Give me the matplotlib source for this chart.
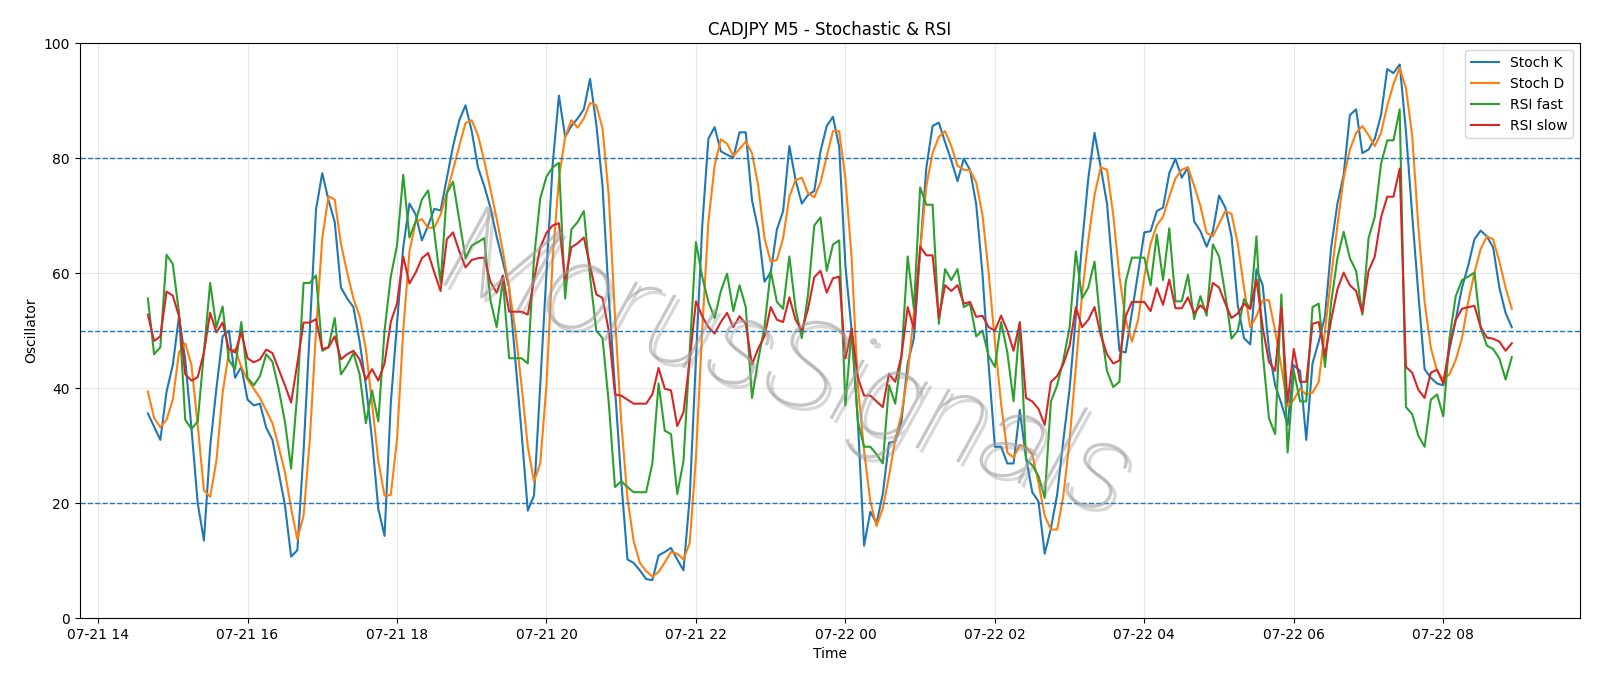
import numpy as np
import pandas as pd
import matplotlib
matplotlib.use('Agg')
import matplotlib.pyplot as plt
import matplotlib.dates as mdates
import matplotlib.patheffects as pe

# M5 bars, 07-21 14:40 -> 07-22 08:55
times = pd.date_range('2024-07-21 14:40', periods=220, freq='5min')

stoch_k = [
    35.6, 33.3, 31.0, 39.4, 44.0, 52.5, 45.0, 33.0, 20.0, 13.5,
    29.8, 39.9, 49.0, 50.0, 41.8, 43.7, 38.0, 37.0, 37.3, 33.1,
    31.0, 25.4, 19.7, 10.7, 11.8, 29.1, 50.0, 71.1, 77.4, 72.7,
    68.9, 57.5, 55.6, 54.1, 48.1, 40.5, 31.0, 19.0, 14.3, 37.3,
    51.2, 64.5, 72.1, 70.2, 65.7, 68.3, 71.2, 70.9, 76.5, 82.1,
    86.6, 89.2, 84.7, 78.4, 75.2, 71.4, 66.4, 62.0, 57.5, 44.9,
    32.3, 18.7, 21.3, 40.5, 60.1, 79.0, 90.9, 83.7, 85.6, 86.9,
    88.5, 93.8, 85.9, 75.2, 56.0, 40.0, 24.0, 10.2, 9.6, 8.3,
    6.8, 6.6, 10.9, 11.5, 12.2, 10.2, 8.3, 21.0, 45.0, 68.0,
    83.4, 85.4, 81.2, 80.6, 80.1, 84.5, 84.5, 72.7, 67.6, 58.5,
    60.1, 67.6, 70.8, 82.1, 76.2, 72.1, 73.6, 74.3, 81.2, 85.6,
    87.2, 82.0, 61.3, 50.0, 34.2, 12.6, 18.5, 16.5, 21.6, 30.5,
    30.7, 34.2, 44.3, 48.7, 63.8, 78.4, 85.6, 86.2, 82.8, 79.6,
    76.0, 79.9, 78.0, 72.0, 60.0, 44.0, 29.8, 29.8, 26.9, 26.9,
    36.2, 27.9, 21.9, 20.3, 11.2, 15.6, 21.5, 31.0, 39.9, 52.5,
    65.1, 76.5, 84.4, 78.4, 72.1, 59.4, 46.5, 46.2, 53.1, 60.1,
    67.1, 67.3, 70.8, 71.4, 77.4, 79.9, 76.6, 78.4, 69.0, 67.3,
    64.6, 67.3, 73.5, 71.4, 66.4, 54.4, 48.7, 47.6, 60.7, 57.9,
    46.8, 40.5, 37.3, 33.6, 44.0, 43.0, 31.0, 44.3, 48.1, 52.5,
    64.5, 72.1, 77.1, 87.5, 88.5, 80.9, 81.5, 83.4, 87.5, 95.5,
    94.8, 96.3, 84.7, 70.2, 56.3, 43.3, 41.8, 40.8, 40.5, 46.8,
    51.9, 57.5, 61.3, 65.9, 67.4, 66.4, 64.5, 57.5, 53.1, 50.6,
]

stoch_d = [
    39.4, 34.8, 33.2, 34.5, 38.0, 46.2, 47.8, 44.0, 33.6, 22.2,
    21.1, 27.3, 39.2, 46.2, 46.8, 43.7, 41.5, 39.9, 38.3, 36.1,
    33.9, 29.8, 25.4, 19.1, 13.7, 17.8, 31.0, 50.0, 66.1, 73.4,
    72.8, 65.1, 60.1, 55.6, 52.5, 46.8, 37.3, 27.3, 21.3, 21.4,
    31.0, 50.0, 63.8, 68.9, 69.4, 67.9, 67.9, 70.2, 73.9, 78.0,
    82.1, 86.1, 86.6, 84.0, 79.6, 74.6, 69.5, 63.8, 57.5, 50.0,
    40.5, 29.8, 23.8, 26.9, 40.5, 62.6, 76.5, 83.7, 86.6, 85.3,
    86.9, 89.6, 89.2, 85.2, 73.5, 52.5, 34.2, 20.9, 13.4, 9.6,
    8.2, 7.2, 8.0, 9.7, 11.5, 11.2, 10.2, 13.1, 27.9, 50.0,
    68.9, 78.7, 83.3, 82.5, 80.4, 81.6, 82.9, 80.9, 75.2, 66.1,
    62.0, 62.3, 66.1, 73.3, 76.2, 76.6, 73.9, 73.2, 75.8, 80.3,
    84.7, 84.7, 76.5, 62.6, 40.5, 29.1, 20.3, 16.0, 19.1, 24.7,
    31.0, 35.5, 42.4, 53.1, 63.8, 75.2, 80.9, 83.7, 84.7, 82.1,
    78.7, 78.0, 77.9, 75.8, 70.2, 60.1, 48.1, 37.3, 28.8, 27.9,
    30.1, 29.8, 28.5, 23.5, 17.8, 15.4, 15.4, 21.3, 31.0, 43.7,
    56.3, 65.7, 73.6, 78.4, 78.0, 70.2, 59.4, 51.9, 48.1, 51.9,
    59.4, 65.1, 68.3, 69.8, 73.3, 76.5, 78.0, 78.4, 75.2, 71.7,
    67.0, 66.4, 68.6, 70.8, 70.3, 65.1, 57.5, 50.6, 52.5, 55.3,
    55.3, 50.0, 43.7, 36.8, 38.0, 39.9, 38.9, 39.2, 41.1, 50.0,
    59.4, 68.3, 76.5, 81.5, 84.4, 85.6, 84.0, 82.1, 84.4, 89.1,
    92.9, 95.7, 92.2, 84.0, 68.0, 55.0, 47.0, 43.0, 41.5, 42.4,
    44.9, 48.7, 55.0, 60.1, 64.2, 66.4, 65.9, 62.0, 57.5, 53.8,
]

rsi_fast = [
    55.6, 45.9, 47.1, 63.2, 61.6, 53.1, 34.5, 32.9, 34.2, 46.2,
    58.3, 50.6, 54.2, 44.9, 43.3, 51.5, 41.8, 40.5, 42.1, 45.9,
    44.6, 39.9, 34.2, 26.0, 39.2, 58.3, 58.3, 59.6, 46.5, 47.1,
    52.2, 42.4, 44.0, 46.1, 42.4, 33.9, 39.6, 34.2, 50.0, 59.4,
    64.8, 77.1, 66.2, 69.0, 72.8, 74.4, 67.0, 58.3, 73.9, 75.9,
    69.3, 62.6, 64.8, 65.4, 66.1, 55.3, 50.6, 58.8, 45.2, 45.2,
    45.2, 44.3, 62.6, 73.0, 76.8, 78.4, 79.2, 55.6, 67.6, 68.9,
    70.8, 59.4, 50.0, 48.7, 37.5, 22.8, 23.8, 22.8, 21.9, 21.9,
    21.9, 26.9, 40.8, 32.6, 32.0, 21.6, 27.3, 46.2, 65.4, 59.4,
    55.0, 52.2, 56.9, 59.9, 53.4, 57.9, 54.1, 38.3, 44.9, 50.6,
    60.4, 55.0, 53.8, 62.9, 53.8, 48.7, 56.3, 68.3, 69.7, 60.4,
    65.0, 65.7, 37.0, 50.3, 34.2, 29.8, 29.8, 28.5, 26.9, 40.5,
    37.3, 45.6, 62.9, 53.8, 74.9, 71.9, 71.9, 51.2, 60.7, 58.8,
    60.7, 54.1, 54.7, 49.0, 50.0, 45.6, 43.7, 51.5, 46.2, 37.7,
    51.5, 27.6, 26.6, 24.7, 20.9, 37.7, 40.5, 44.9, 50.6, 63.8,
    55.6, 57.5, 62.0, 50.6, 43.0, 40.2, 41.1, 58.5, 62.7, 62.7,
    62.7, 57.9, 66.7, 58.8, 67.8, 55.1, 55.1, 59.7, 52.0, 56.0,
    52.6, 65.0, 62.9, 56.3, 48.6, 50.0, 55.5, 53.8, 66.4, 46.2,
    34.8, 32.0, 56.3, 28.8, 43.0, 37.7, 37.7, 54.1, 54.7, 43.7,
    55.0, 62.6, 67.2, 62.6, 60.4, 52.8, 66.1, 69.8, 79.0, 83.1,
    83.1, 88.5, 36.7, 35.5, 31.7, 29.8, 38.0, 38.9, 35.1, 48.7,
    56.0, 58.8, 59.4, 60.1, 50.5, 47.4, 46.8, 45.2, 41.5, 45.4,
]

rsi_slow = [
    52.8, 48.2, 49.0, 56.8, 56.1, 52.5, 42.4, 41.3, 41.9, 46.2,
    53.1, 49.7, 51.4, 46.8, 46.2, 49.7, 45.2, 44.5, 45.0, 46.7,
    46.1, 43.3, 40.5, 37.5, 44.3, 51.4, 51.4, 52.0, 46.8, 47.1,
    49.0, 45.0, 45.9, 46.5, 45.0, 41.5, 43.3, 41.3, 44.3, 51.5,
    54.7, 62.9, 58.2, 60.1, 62.6, 63.5, 60.1, 56.9, 65.9, 67.1,
    63.8, 61.0, 62.3, 62.6, 62.7, 58.5, 56.6, 59.6, 53.3, 53.3,
    53.3, 52.8, 58.8, 64.5, 67.0, 68.3, 68.7, 58.8, 64.5, 65.2,
    66.2, 61.3, 56.3, 55.7, 50.0, 38.9, 38.7, 38.0, 37.3, 37.3,
    37.3, 38.9, 43.5, 39.9, 39.6, 33.4, 35.8, 44.9, 55.1, 52.5,
    50.6, 49.5, 51.5, 53.1, 50.6, 52.5, 51.2, 44.1, 46.9, 49.0,
    54.1, 51.9, 51.5, 55.8, 51.9, 50.0, 53.8, 59.3, 60.4, 56.6,
    59.1, 59.4, 45.2, 50.3, 41.8, 38.7, 38.7, 37.7, 36.7, 42.5,
    41.1, 45.6, 54.1, 50.3, 64.6, 63.1, 63.1, 52.2, 57.9, 56.9,
    57.9, 54.7, 55.0, 52.4, 52.6, 50.6, 50.0, 52.6, 50.0, 46.5,
    51.4, 38.3, 37.7, 36.4, 33.6, 41.1, 42.1, 44.2, 47.4, 54.1,
    50.6, 51.9, 54.1, 49.2, 45.9, 44.3, 44.8, 52.5, 55.0, 55.0,
    55.0, 53.4, 57.4, 54.5, 58.9, 53.9, 53.9, 55.8, 53.0, 54.4,
    53.4, 58.3, 57.5, 54.7, 52.2, 53.0, 54.7, 53.8, 58.9, 50.6,
    44.6, 43.0, 54.1, 37.5, 46.8, 41.1, 41.1, 51.2, 51.5, 45.6,
    51.9, 57.2, 60.1, 57.9, 56.9, 53.1, 60.4, 62.9, 69.7, 73.3,
    73.3, 78.2, 43.7, 42.7, 39.7, 38.3, 42.7, 43.2, 40.8, 47.4,
    51.9, 53.8, 54.1, 54.3, 50.6, 48.8, 48.6, 48.1, 46.5, 47.8,
]

levels = [20, 50, 80]

fig, ax = plt.subplots(figsize=(16, 6.86), dpi=100)
fig.subplots_adjust(left=0.0498, right=0.9875, top=0.937, bottom=0.099)

ax.plot(times, stoch_k, label='Stoch K', lw=1.5)
ax.plot(times, stoch_d, label='Stoch D', lw=1.5)
ax.plot(times, rsi_fast, label='RSI fast', lw=1.5)
ax.plot(times, rsi_slow, label='RSI slow', lw=1.5)

for lvl in levels:
    ax.axhline(lvl, color='tab:blue', linestyle='--', linewidth=1)

ax.set_ylim(0, 100)
ax.grid(True, alpha=0.3)
ax.xaxis.set_major_locator(mdates.HourLocator(byhour=range(0, 24, 2)))
ax.xaxis.set_major_formatter(mdates.DateFormatter('%m-%d %H'))
ax.set_title('CADJPY M5 - Stochastic & RSI')
ax.set_xlabel('Time')
ax.set_ylabel('Oscillator')
ax.legend(loc='upper right')

# watermark: thin grey italic text with a soft shadow, on top of the lines
ax.text(0.472, 0.435, 'MorusSignals', transform=ax.transAxes,
        fontsize=90, color='#a0a0a0', alpha=0.6, family=['Roboto', 'DejaVu Sans'],
        style='italic', fontweight=100, rotation=-19,
        ha='center', va='center', zorder=5,
        path_effects=[pe.withSimplePatchShadow(offset=(3, -3), shadow_rgbFace='#808080', alpha=0.3)])

plt.savefig('out.png', dpi=100)
